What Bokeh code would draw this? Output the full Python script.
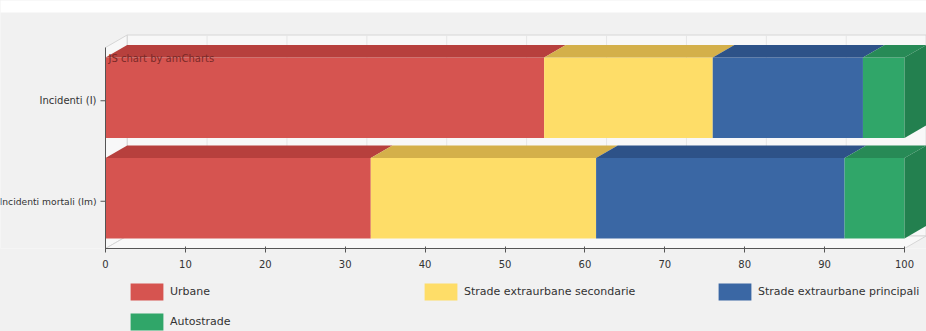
from bokeh.plotting import figure
from bokeh.models import Range1d, FixedTicker, Legend, LegendItem, Label
from bokeh.layouts import column
from bokeh.embed import file_html
from bokeh.resources import INLINE
from bokeh.core.properties import value

# ---------------- data ----------------
categories = ["Incidenti (I)", "Incidenti mortali (Im)"]
series_names = ["Urbane", "Strade extraurbane secondarie",
                "Strade extraurbane principali", "Autostrade"]
urbane = [54.9, 33.2]
secondarie = [21.1, 28.2]
principali = [18.8, 31.1]
autostrade = [5.2, 7.5]
x_ticks = [0, 10, 20, 30, 40, 50, 60, 70, 80, 90, 100]
watermark = "JS chart by amCharts"

# ---------------- style ----------------
front_colors = ["#d65450", "#fedd68", "#3a67a4", "#30a669"]
top_colors = ["#b7403d", "#d4b04a", "#2d5288", "#278a56"]
side_colors = ["#a33835", "#c09c3c", "#264676", "#23804f"]
BG = "#f1f1f1"
WALL = "#f8f8f8"
FONT = "DejaVu Sans"

W = 926
FRAME_H = 248
AXIS_H = 30
LEG_H = 53
X0_PX, X100_PX = 105, 904
PXX = (X100_PX - X0_PX) / 100.0
PXY = 100.5
DX = 21.65 / PXX
DY = 12.5 / PXY
BAR_H = 0.8
h = BAR_H / 2

n = len(categories)
centers = [n - i - 0.5 for i in range(n)]
x_start, x_end = -X0_PX / PXX, (W - X0_PX) / PXX
y_end = FRAME_H / PXY

p = figure(width=W, height=FRAME_H + AXIS_H, output_backend="svg", toolbar_location=None,
           x_range=Range1d(x_start, x_end), y_range=Range1d(0, y_end),
           y_axis_location=None, min_border_left=0, min_border_right=0,
           min_border_top=0, min_border_bottom=AXIS_H)
p.grid.visible = False
p.outline_line_color = None
p.background_fill_color = "white"
p.border_fill_color = BG

# chart background (white strip on top)
p.quad(left=[x_start - 1], right=[x_end + 1], bottom=[-2 / PXY], top=[(FRAME_H - 12) / PXY],
       fill_color=BG, line_color=None)

# 3D box walls
walls_x = [[DX, 100 + DX, 100 + DX, DX],
           [0, DX, DX, 0],
           [0, 100, 100 + DX, DX]]
walls_y = [[DY, DY, n + DY, n + DY],
           [0, DY, n + DY, n],
           [0, 0, DY, DY]]
p.patches(xs=walls_x, ys=walls_y, fill_color=WALL, line_color="#d6d6d6", line_width=1)
inner = x_ticks[1:-1]
p.segment(x0=[t + DX for t in inner], y0=[DY] * len(inner),
          x1=[t + DX for t in inner], y1=[n + DY] * len(inner),
          line_color="#e6e6e6", line_width=1)

# stacked 3D bars
series = [urbane, secondarie, principali, autostrade]
lefts = [0.0] * n
for k, vals in enumerate(series):
    rights = [l + v for l, v in zip(lefts, vals)]
    p.hbar(y=centers, left=lefts, right=rights, height=BAR_H,
           fill_color=front_colors[k], line_color=None)
    txs = [[l, rr, rr + DX, l + DX] for l, rr in zip(lefts, rights)]
    tys = [[c + h, c + h, c + h + DY, c + h + DY] for c in centers]
    p.patches(xs=txs, ys=tys, fill_color=top_colors[k], line_color=None)
    if k == len(series) - 1:
        sxs = [[rr, rr, rr + DX, rr + DX] for rr in rights]
        sys_ = [[c - h, c + h, c + h + DY, c - h + DY] for c in centers]
        p.patches(xs=sxs, ys=sys_, fill_color=side_colors[k], line_color=None)
    lefts = rights

# category axis (drawn in the plot)
lab_y = [c - 3 / PXY for c in centers]
lab_sizes = ["10px", "9.2px"]
p.segment(x0=[0], y0=[0], x1=[0], y1=[n], line_color="#555555", line_width=1)
p.segment(x0=[-5 / PXX] * n, y0=lab_y, x1=[0] * n, y1=lab_y,
          line_color="#555555", line_width=1)
for t, yy, fs in zip(categories, lab_y, lab_sizes):
    p.text(x=[-9 / PXX], y=[yy], text=[t], text_align="right",
           text_baseline="middle", text_font=value(FONT), text_font_size=fs,
           text_color="#333333")

# watermark
p.add_layout(Label(x=3 / PXX, y=n - 5 / PXY, text=watermark, text_baseline="top",
                   text_font=FONT, text_font_size="10px",
                   text_color="#7a2a28"))

# value axis
ax = p.xaxis[0]
ax.ticker = FixedTicker(ticks=x_ticks)
ax.bounds = (0, 100)
ax.axis_line_color = "#555555"
ax.major_tick_line_color = "#555555"
ax.major_tick_in = 2
ax.major_tick_out = 4
ax.minor_tick_line_color = None
ax.major_label_text_font = FONT
ax.major_label_text_font_size = "10px"
ax.major_label_text_color = "#333333"
ax.major_label_standoff = 7

# legend strip (separate figure, same colours; proxy marks lie outside its ranges)
lg = figure(width=W, height=LEG_H, output_backend="svg", toolbar_location=None,
            x_range=Range1d(0, 1), y_range=Range1d(0, 1),
            x_axis_location=None, y_axis_location=None, min_border=0)
lg.grid.visible = False
lg.outline_line_color = None
lg.background_fill_color = BG
lg.border_fill_color = BG
proxies = [lg.hbar(y=[5], left=[5], right=[6], height=1, fill_color=c, line_color=None)
           for c in front_colors]
items = [LegendItem(label=nm, renderers=[r]) for nm, r in zip(series_names, proxies)]

GW, GH = 41, 21   # legend swatch area (drawn inset by 10 % each side)

def make_legend(its, loc):
    return Legend(items=its, orientation="horizontal", location=loc,
                  glyph_width=GW, glyph_height=GH, label_standoff=3,
                  label_width=237, label_height=21, spacing=13,
                  padding=0, margin=0, border_line_color=None,
                  background_fill_alpha=0, label_text_font=FONT,
                  label_text_font_size="11px", label_text_color="#333333")

lg.add_layout(make_legend(items[:3], (126, 29)))
lg.add_layout(make_legend(items[3:], (126, -1)))

layout = column(p, lg, spacing=0)
layout.styles = {"background-color": BG}
open("out.html", "w").write(file_html(layout, INLINE))
